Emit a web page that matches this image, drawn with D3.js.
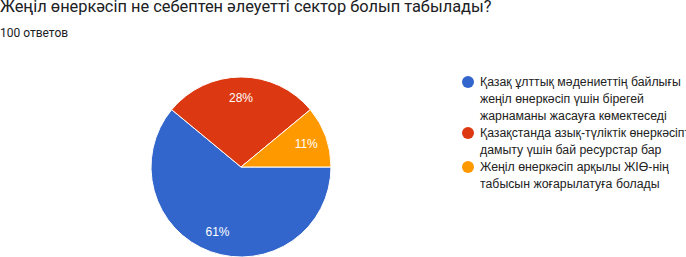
<!DOCTYPE html>
<html>
<head>
<meta charset="utf-8">
<script src="https://cdn.jsdelivr.net/npm/d3@7/dist/d3.min.js"></script>
<style>
  html, body { margin: 0; padding: 0; background: #fff; overflow: hidden; }
  svg { display: block; }
</style>
</head>
<body>
<svg id="chart" width="686" height="257"></svg>
<script>
// answers (legend order) and their share, percent
const answers = [
    ['Қазақ ұлттық мәдениеттің байлығы', 'жеңіл өнеркәсіп үшін бірегей', 'жарнаманы жасауға көмектеседі'],
    ['Қазақстанда азық-түліктік өнеркәсіпті', 'дамыту үшін бай ресурстар бар'],
    ['Жеңіл өнеркәсіп арқылы ЖІӨ-нің', 'табысын жоғарылатуға болады']
];
const shares = [61, 28, 11];
const colors = ['#3366cc', '#dc3912', '#ff9900'];
const title = 'Жеңіл өнеркәсіп не себептен әлеуетті сектор болып табылады?';
const subtitle = '100 ответов';

const svg = d3.select('#chart');
const cs = {
    cx: 241, cy: 167, r: 90,
    labelR: 0.77,
    legend: { x: 468, y: 82, dot: 6, textX: 480, line: 17 }
};

svg.append('text')
    .attr('x', 0).attr('y', 12)
    .attr('font-family', 'Roboto, sans-serif')
    .attr('font-size', 16.4)
    .attr('fill', '#202124')
    .text(title);

svg.append('text')
    .attr('x', 0).attr('y', 37)
    .attr('font-family', 'Roboto, sans-serif')
    .attr('font-size', 12)
    .attr('fill', '#202124')
    .text(subtitle);

const pie = d3.pie()
    .sort(null)
    .startAngle(Math.PI / 2)
    .endAngle(Math.PI / 2 + 2 * Math.PI);
const arcs = pie(shares);
const arc = d3.arc().innerRadius(0).outerRadius(cs.r);
const labelArc = d3.arc().innerRadius(cs.r * cs.labelR).outerRadius(cs.r * cs.labelR);

const g = svg.append('g').attr('transform', 'translate(' + cs.cx + ',' + cs.cy + ')');
g.selectAll('path')
    .data(arcs)
    .enter()
    .append('path')
    .attr('d', arc)
    .attr('fill', (d, i) => colors[i])
    .attr('stroke', '#fff')
    .attr('stroke-width', 1);

g.selectAll('text')
    .data(arcs)
    .enter()
    .append('text')
    .attr('transform', d => 'translate(' + labelArc.centroid(d) + ')')
    .attr('text-anchor', 'middle')
    .attr('dy', '0.35em')
    .attr('font-family', 'Arial, "Liberation Sans", sans-serif')
    .attr('font-size', 12)
    .attr('fill', '#fff')
    .text(d => d.data + '%');

// legend
let row = 0;
answers.forEach((lines, i) => {
    const y0 = cs.legend.y + row * cs.legend.line;
    svg.append('circle')
        .attr('cx', cs.legend.x).attr('cy', y0)
        .attr('r', cs.legend.dot)
        .attr('fill', colors[i]);
    const t = svg.append('text')
        .attr('x', cs.legend.textX)
        .attr('y', y0)
        .attr('font-family', 'Arial, "Liberation Sans", sans-serif')
        .attr('font-size', 12.3)
        .attr('fill', '#222');
    lines.forEach((l, j) => {
        t.append('tspan')
            .attr('x', cs.legend.textX)
            .attr('dy', j === 0 ? '0.35em' : cs.legend.line)
            .text(l);
    });
    row += lines.length;
});
</script>
</body>
</html>
